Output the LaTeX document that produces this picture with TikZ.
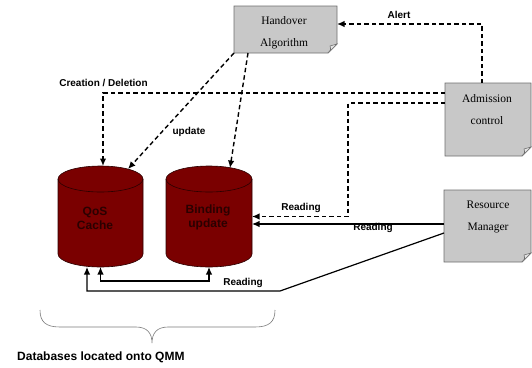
\documentclass[tikz,border=0pt]{standalone}
\usepackage{fontspec}
\setmainfont{Liberation Serif}
\setsansfont{Liberation Sans}
\usetikzlibrary{arrows.meta,calc}
\pgfdeclarelayer{bg}
\pgfsetlayers{bg,main}

\definecolor{boxgray}{HTML}{C8C8C8}
\definecolor{boxedge}{HTML}{6E6E6E}
\definecolor{curlgray}{HTML}{E4E4E4}
\definecolor{dbred}{HTML}{7A0000}
\definecolor{dbedge}{HTML}{2A0000}
\definecolor{bracegray}{HTML}{7A7A7A}

\tikzset{
  frame/.style={inner sep=0pt, outer sep=0pt, draw=none},
  boxtext/.style={font=\fontsize{11.5}{22}\selectfont, align=center, inner sep=0pt},
  dbtext/.style={font=\sffamily\bfseries\fontsize{12}{14}\selectfont, align=center, inner sep=0pt, text=dbedge},
  lbl/.style={font=\sffamily\bfseries\fontsize{10}{12}\selectfont, inner sep=0pt},
  tip/.style={-{Latex[length=7.5pt,width=6.5pt]}},
  dashlink/.style={draw=black, line width=1.4pt, dash pattern=on 4.5pt off 3pt, tip},
  solidlink/.style={draw=black, line width=1.2pt, tip},
}

% grey note box with a curled bottom-right corner, drawn behind node #1
\newcommand\pagebox[1]{%
  \begin{pgfonlayer}{bg}
    \filldraw[fill=boxgray, draw=boxedge, line width=0.8pt]
      (#1.north west) -- (#1.north east) -- ([yshift=9pt]#1.south east)
      -- ([xshift=-9pt]#1.south east) -- (#1.south west) -- cycle;
    \filldraw[fill=curlgray, draw=boxedge, line width=0.6pt]
      ([yshift=9pt]#1.south east) -- ([xshift=-9pt]#1.south east)
      .. controls ([xshift=-6pt,yshift=3pt]#1.south east) .. ([xshift=-7pt,yshift=7pt]#1.south east)
      -- cycle;
  \end{pgfonlayer}}

% database cylinder: centre x, top y, bottom y, x radius
\newcommand\dbcyl[4]{%
  \begin{pgfonlayer}{bg}
    \filldraw[fill=dbred, draw=dbedge, line width=0.6pt]
      (#1-#4,#2+13) -- (#1-#4,#3-13)
      arc[start angle=180, end angle=360, x radius=#4pt, y radius=13pt]
      -- (#1+#4,#2+13)
      arc[start angle=0, end angle=180, x radius=#4pt, y radius=13pt] -- cycle;
    \draw[dbedge, line width=0.6pt] (#1-#4,#2+13)
      arc[start angle=180, end angle=360, x radius=#4pt, y radius=13pt];
  \end{pgfonlayer}}

\begin{document}
\begin{tikzpicture}[x=1pt, y=-1pt]
\useasboundingbox (0,0) rectangle (532,367);

% note boxes
\node[frame, minimum width=103pt, minimum height=47pt] (ha) at (285.5,29.5) {};
\node[frame, minimum width=86pt, minimum height=73pt] (ac) at (488,119.5) {};
\node[frame, minimum width=87pt, minimum height=72pt] (rm) at (487.5,226) {};
\pagebox{ha}\pagebox{ac}\pagebox{rm}
\node[boxtext] (haT) at (284,33) {Handover\\Algorithm};
\node[boxtext] (acT) at (487,110) {Admission\\control};
\node[boxtext] (rmT) at (488,217) {Resource\\Manager};

% databases
\node[frame, minimum width=85pt, minimum height=101pt] (qos) at (100.5,216.5) {};
\node[frame, minimum width=86pt, minimum height=101pt] (bind) at (209,216.5) {};
\dbcyl{100.5}{166}{267}{42.5}
\dbcyl{209}{166}{267}{43}
\node[dbtext] (qosT) at (95,218) {QoS\\Cache};
\node[dbtext] (bindT) at (208,217.5) {Binding\\update};

% dashed control flows
\draw[dashlink] ([xshift=-6pt]ac.north) |- ([yshift=5.5pt]ha.east);
\node[lbl] (alertL) at (399,15) {Alert};

\draw[dashlink] ([yshift=26.5pt]ac.west) -| ([xshift=2.5pt]qos.north);
\node[lbl] (creaL) at (103.5,83) {Creation / Deletion};

\draw[dashlink] ([yshift=16.5pt]ac.west) -| ($(bind.east)+(96,0)$) -- (bind.east);
\node[lbl] (readA) at (301,208) {Reading};

\draw[dashlink] (ha.south west) -- ($(qos.north)+(27.5,3)$);
\draw[dashlink] ([xshift=14pt]ha.south west) -- ($(bind.north)+(21,2)$);
\node[lbl] (updL) at (189,132) {update};

% solid reading flows
\draw[solidlink] ([yshift=2pt]rm.west) -- ([yshift=2pt]rm.west -| bind.east);
\node[lbl] (readB) at (373,228) {Reading};

\coordinate (kink) at (280,291);
\draw[solidlink] ([yshift=-7pt]rm.west) -- (kink) -| ([xshift=-13.5pt]qos.south);
\node[lbl] (readC) at (243,283) {Reading};

\draw[solidlink, {Latex[length=7.5pt,width=6.5pt]}-{Latex[length=7.5pt,width=6.5pt]}]
  (qos.south) -- ++(0,14) -| (bind.south);

% brace under the databases
\draw[bracegray, line width=0.6pt]
  (40,310) .. controls (40,322) and (46,327) .. (60,327) -- (136,327)
  .. controls (147,327) and (152,333) .. (152,343)
  .. controls (152,333) and (157,327) .. (168,327) -- (255,327)
  .. controls (269,327) and (275,322) .. (275,310);
\node[anchor=west, font=\sffamily\bfseries\fontsize{12}{14}\selectfont, inner sep=0pt] (cap) at (17,357) {Databases located onto QMM};
\end{tikzpicture}
\end{document}
